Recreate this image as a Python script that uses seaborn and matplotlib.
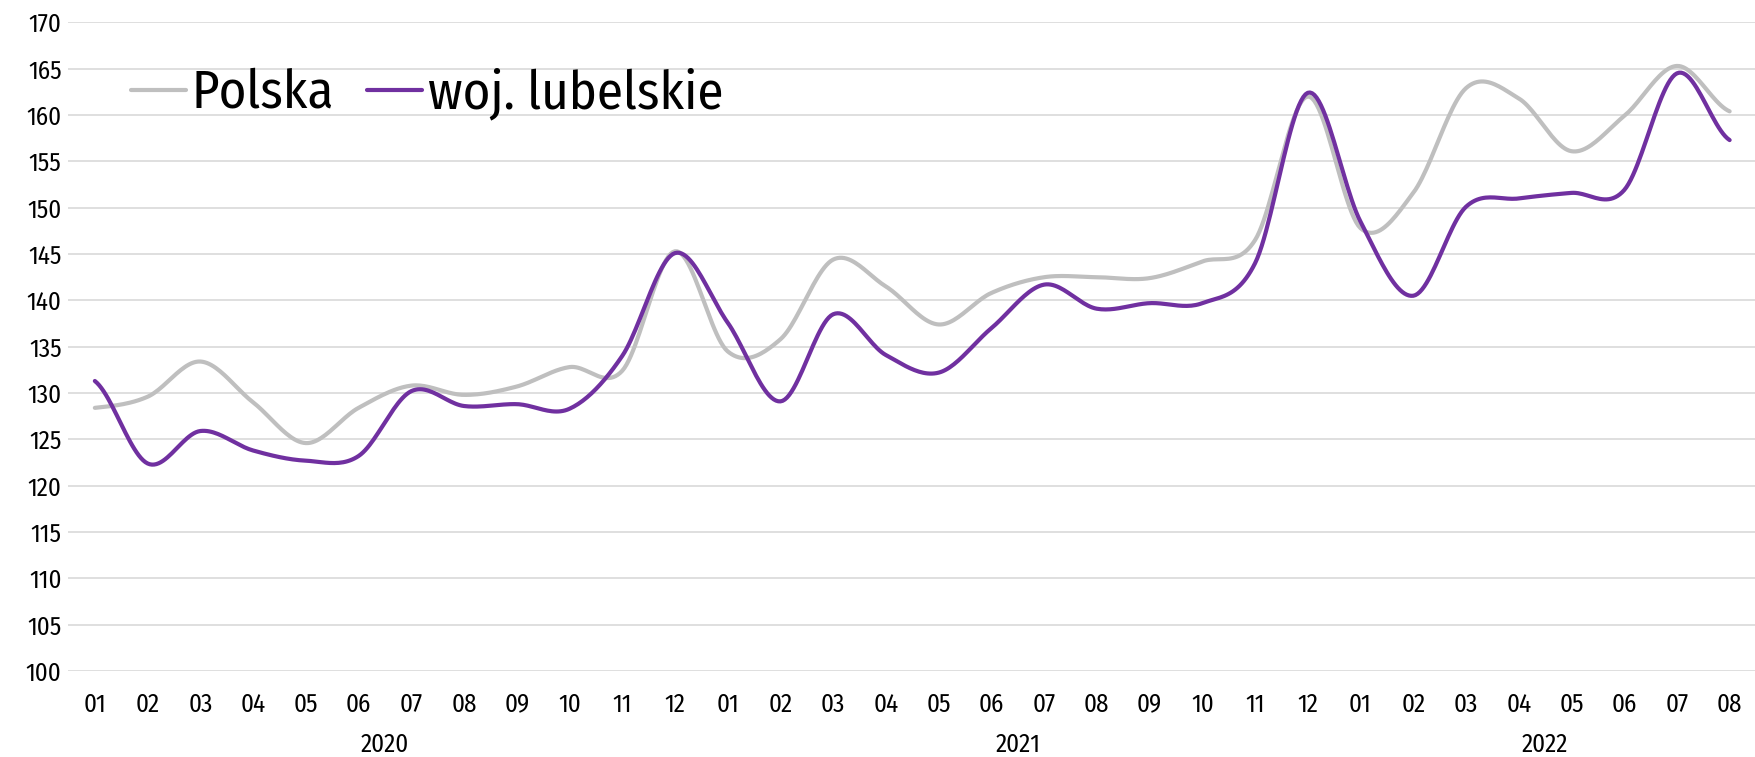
import matplotlib
matplotlib.use("Agg")
import matplotlib.pyplot as plt
import matplotlib.transforms as mtransforms
import numpy as np
import pandas as pd
import seaborn as sns

# month labels 2020-01 .. 2022-08
month_labels = ["01", "02", "03", "04", "05", "06", "07", "08", "09", "10", "11", "12",
                "01", "02", "03", "04", "05", "06", "07", "08", "09", "10", "11", "12",
                "01", "02", "03", "04", "05", "06", "07", "08"]
years = ["2020", "2021", "2022"]
year_centers = [5.5, 17.5, 27.5]

polska = [128.4, 129.6, 133.4, 129.0, 124.6, 128.4, 130.8, 129.8, 130.7, 132.8, 132.4, 145.3,
          134.5, 135.8, 144.4, 141.5, 137.4, 140.8, 142.5, 142.5, 142.4, 144.2, 146.5, 162.0,
          147.8, 151.6, 162.9, 161.8, 156.1, 159.9, 165.3, 160.4]
lubelskie = [131.3, 122.4, 125.9, 123.8, 122.7, 123.2, 130.2, 128.6, 128.8, 128.3, 134.0, 145.1,
             137.6, 129.1, 138.5, 134.1, 132.2, 137.0, 141.7, 139.1, 139.7, 139.7, 144.0, 162.4,
             148.5, 140.5, 150.1, 151.0, 151.6, 151.9, 164.5, 157.3]


def smooth(values, steps=24):
    # catmull-rom style curve through the points (like excel "smoothed line")
    y = np.asarray(values, dtype=float)
    yp = np.concatenate([[y[0]], y, [y[-1]]])
    xs, ys = [], []
    t = np.linspace(0, 1, steps, endpoint=False)
    for i in range(len(y) - 1):
        p0, p1, p2, p3 = yp[i], yp[i + 1], yp[i + 2], yp[i + 3]
        b0, b1, b2, b3 = p1, p1 + (p2 - p0) / 6, p2 - (p3 - p1) / 6, p2
        seg = ((1 - t) ** 3 * b0 + 3 * (1 - t) ** 2 * t * b1
               + 3 * (1 - t) * t ** 2 * b2 + t ** 3 * b3)
        xs.extend(i + t)
        ys.extend(seg)
    xs.append(len(y) - 1)
    ys.append(y[-1])
    return np.array(xs), np.array(ys)


sns.set_style('white')
plt.rcParams['font.family'] = ['Fira Sans Condensed', 'DejaVu Sans']
plt.rcParams['text.color'] = 'black'

fig = plt.figure(figsize=(17.56, 7.57), dpi=100)
ax = fig.add_axes([0.039, 0.1136, 0.961, 0.8568])

x_pl, y_pl = smooth(polska)
x_lu, y_lu = smooth(lubelskie)
df = pd.concat([
    pd.DataFrame({'x': x_pl, 'y': y_pl, 'seria': 'Polska'}),
    pd.DataFrame({'x': x_lu, 'y': y_lu, 'seria': 'woj. lubelskie'}),
])

sns.lineplot(data=df, x='x', y='y', hue='seria', palette=['#bfbfbf', '#7030a0'],
             estimator=None, sort=False, linewidth=3.0, ax=ax)

ax.set_xlim(-0.5, 31.5)
ax.set_ylim(100, 170)
ax.set_yticks(range(100, 171, 5))
ax.set_xticks(range(len(month_labels)))
ax.set_xticklabels(month_labels)
ax.tick_params(axis='both', length=0, labelsize=18, colors='black')
ax.tick_params(axis='x', pad=15)
ax.tick_params(axis='y', pad=5)
ax.yaxis.grid(True, color='#d9d9d9', linewidth=1.2)
ax.set_axisbelow(True)
for s in ax.spines.values():
    s.set_visible(False)
ax.set_xlabel('')
ax.set_ylabel('')

trans = mtransforms.blended_transform_factory(ax.transData, ax.transAxes)
for yr, c in zip(years, year_centers):
    ax.text(c, -0.114, yr, transform=trans, ha='center', va='center', fontsize=18, color='black')

leg = ax.legend(loc='upper left', bbox_to_anchor=(0.0746, 0.9115), bbox_transform=fig.transFigure,
                ncol=2, frameon=False, fontsize=38, handlelength=1.04, handletextpad=0.11,
                columnspacing=0.63, borderpad=0, borderaxespad=0)
for txt in leg.get_texts():
    txt.set_color('black')

plt.savefig('out.png', dpi=100)
plt.close('all')
